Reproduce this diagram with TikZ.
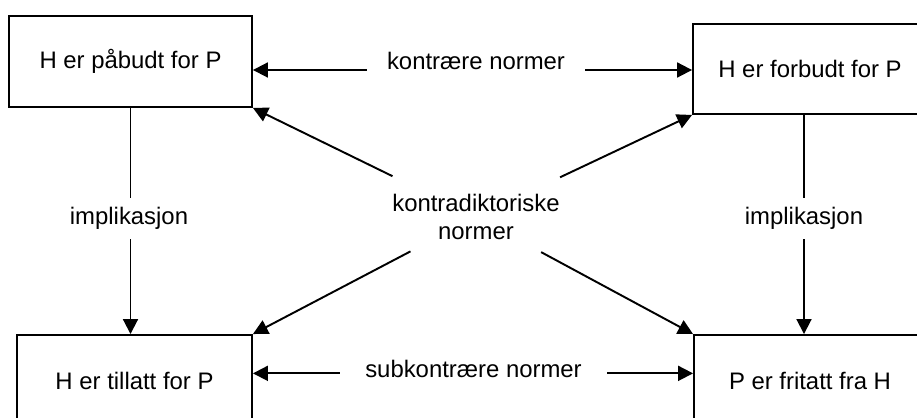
\documentclass[tikz,border=0pt]{standalone}
\usepackage{fontspec}
\setmainfont{Liberation Sans}
\usepackage{tikz}
\usetikzlibrary{arrows.meta, backgrounds}
\tikzstyle{block} = [rectangle, draw=black, line width=1.1pt, fill=white, text centered, minimum width=4.7cm, minimum height=1.82cm]
\tikzstyle{tag} = [inner xsep=0.4cm, inner ysep=0.18cm]
\tikzstyle{arrow} = [line width=1.1pt, -{Triangle[length=8.5pt, width=8.5pt]}]
\tikzstyle{line} = [line width=1.1pt]

\begin{document}
\begin{tikzpicture}[x=0.02cm, y=-0.02cm, font=\fontsize{13.6}{15.9}\selectfont]

    \useasboundingbox (0, 0) rectangle (917, 418);
    \fill [white] (0, 0) rectangle (917, 418);
    \clip (0, 0) rectangle (917, 418);

    \node (paabudt) [block, minimum width=4.86cm] at (130.5, 61.5) {H er påbudt for P};
    \node (forbudt) [block, minimum width=4.68cm, minimum height=1.8cm] at (810, 69) {H er forbudt for P};
    \node (tillatt) [block] at (134.5, 380.5) {H er tillatt for P};
    \node (fritatt) [block, minimum width=4.64cm] at (810, 380.5) {P er fritatt fra H};

    \node (kontr) [tag, anchor=base] at (476, 70) {kontrære normer};
    \node (subkontr) [tag, inner xsep=0.5cm, anchor=base] at (473.5, 378) {subkontrære normer};
    \node (impl0) [tag, anchor=base] at (129, 225) {implikasjon};
    \node (impl1) [tag, anchor=base] at (804, 225) {implikasjon};
    \node (kontrad) [align=center] at (476, 217) {kontradiktoriske\\normer};

    % kontraere og subkontraere
    \draw [arrow] (kontr.base west) -- (kontr.base west -| paabudt.east);
    \draw [arrow] (kontr.base east) -- (kontr.base east -| forbudt.west);
    \draw [arrow] (subkontr.mid west) -- (subkontr.mid west -| tillatt.east);
    \draw [arrow] (subkontr.mid east) -- (subkontr.mid east -| fritatt.west);

    % implikasjon
    \draw [line] (paabudt.south) -- (paabudt.south |- impl0.north);
    \draw [arrow] (paabudt.south |- impl0.south) -- (paabudt.south |- tillatt.north);
    \draw [line] (impl1.north |- forbudt.south) -- (impl1.north);
    \draw [arrow] (impl1.south) -- (impl1.south |- fritatt.north);

    % kontradiktoriske
    \draw [arrow, shorten <=1.86cm] (kontrad.center) -- (paabudt.south east);
    \draw [arrow, shorten <=1.86cm] (kontrad.center) -- (forbudt.south west);
    \draw [arrow, shorten <=1.48cm] (kontrad.center) -- (tillatt.north east);
    \draw [arrow, shorten <=1.48cm] (kontrad.center) -- (fritatt.north west);

\end{tikzpicture}
\end{document}
